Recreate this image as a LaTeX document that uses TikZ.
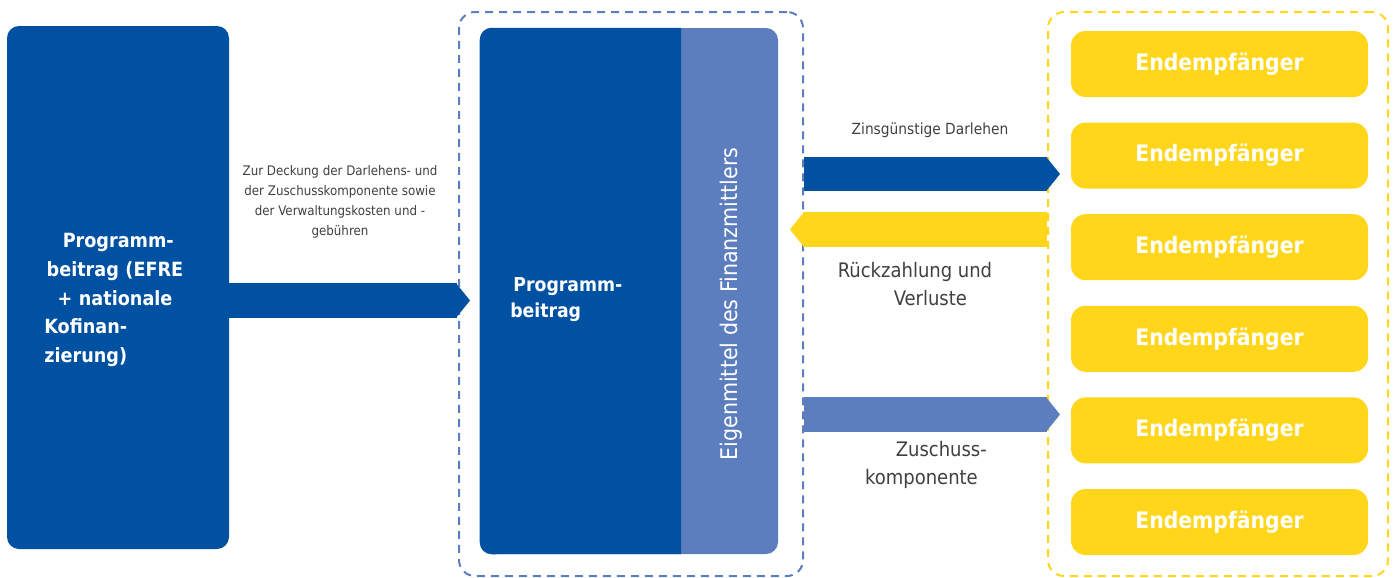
\documentclass[tikz,border=0pt]{standalone}
\usepackage{fontspec}
\setmainfont{DejaVu Sans Condensed}
\usetikzlibrary{arrows.meta}
\definecolor{darkblue}{RGB}{0,81,161}
\definecolor{midblue}{RGB}{92,125,190}
\definecolor{sunyellow}{RGB}{255,214,26}
\definecolor{labelgray}{RGB}{64,64,64}
\tikzset{
  dashframe/.style={draw, dash pattern=on 6pt off 4.5pt, line width=1.5pt, rounded corners=12pt,
    minimum width=#1, minimum height=423pt, inner sep=0pt},
  fundbox/.style={fill=darkblue, rounded corners=9pt, inner sep=0pt},
  recipient/.style={fill=sunyellow, rounded corners=11pt, minimum width=222.75pt, minimum height=49.5pt,
    text=white, font=\bfseries\fontsize{17}{20}\selectfont},
  flow/.style={line width=26pt, draw=#1, -{Triangle[length=10.5pt, width=0pt 1, line width=0pt, fill=#1]},
    postaction={draw=#1, line width=26pt, arrows=-, shorten >=9.5pt}},
  whitetext/.style={text=white, inner sep=0pt},
  note/.style={text=labelgray, font=\fontsize{9.9}{15}\selectfont, align=center},
  biglabel/.style={text=labelgray, font=\fontsize{15}{20.5}\selectfont, align=left}
}
\begin{document}
\begin{tikzpicture}[x=0.75pt,y=-0.75pt]
\useasboundingbox (0,0) rectangle (1393,578);
% dashed frames
\node[dashframe=258pt, draw=midblue] (fi) at (631,294) {};
\node[dashframe=255pt, draw=sunyellow] (er) at (1218,294) {};
% left box
\node[fundbox, minimum width=166.5pt, minimum height=392.25pt] (prog) at (118,287.5) {};
\node[whitetext, text width=106pt, align=left, font=\bfseries\fontsize{14.7}{21.4}\selectfont] (progtext) at (115,300)
  {\hfill\,\,Programm-\hfill\null\\\hfill beitrag (EFRE\hfill\null\\\hfill + nationale\hfill\null\\Kofinan-\\zierung)};
% middle box
\node[fundbox, fill=midblue, minimum width=223.5pt, minimum height=394.5pt] (mid) at (629,291) {};
\fill[darkblue] (681,28) [rounded corners=9pt]-- (mid.north west) -- (mid.south west) [sharp corners]-- (681,554) -- cycle;
\node[whitetext, anchor=west, align=left, font=\bfseries\fontsize{14.4}{19.5}\selectfont] (midtext) at (510,300) {\,Programm-\\beitrag};
\node[whitetext, rotate=90, font=\fontsize{17.2}{20}\selectfont] (own) at (731,304) {Eigenmittel des Finanzmittlers};
% recipients
\foreach \i in {1,...,6}
  \node[recipient] (r\i) at (1219.5,{64+91.6*(\i-1)}) {Endempfänger};
% arrows
\coordinate (tip1) at (470,300.5);
\coordinate (tip2) at (1060,174);
\coordinate (tip3) at (790,229.5);
\coordinate (tip4) at (1060,414.5);
\draw[flow=darkblue] (prog.east |- tip1) -- (tip1);
\draw[flow=darkblue] (fi.east |- tip2) -- (tip2);
\draw[flow=sunyellow] (er.west |- tip3) -- (tip3);
\draw[flow=midblue] (fi.east |- tip4) -- (tip4);
% labels
\node[note] (coverlbl) at (340,202) {Zur Deckung der Darlehens- und\\der Zuschusskomponente sowie\\der Verwaltungskosten und -\\gebühren};
\node[note, font=\fontsize{11.5}{15}\selectfont] (loanlbl) at (930,130) {Zinsgünstige Darlehen};
\node[biglabel] (backlbl) at (915,284) {Rückzahlung und\\\hspace*{42pt}Verluste};
\node[biglabel] (grantlbl) at (926,465) {\hspace*{23pt}Zuschuss-\\komponente};
\end{tikzpicture}
\end{document}
